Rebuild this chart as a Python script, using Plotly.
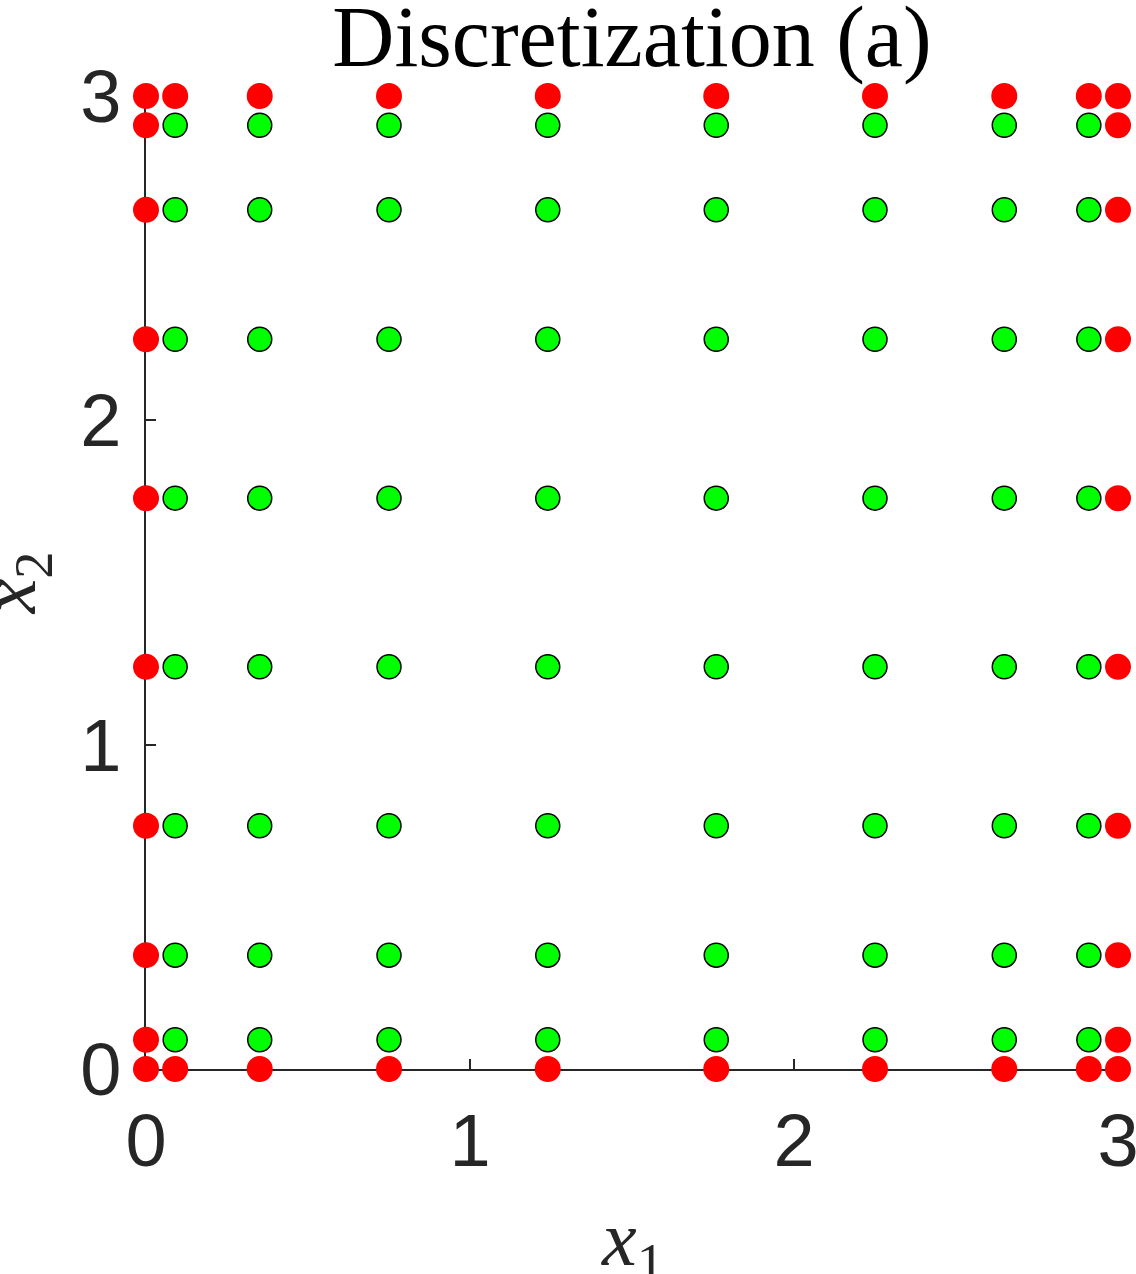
import itertools
import plotly.graph_objects as go

# Grid nodes along each axis
nodes = [0.0, 0.09, 0.351, 0.75, 1.24, 1.76, 2.25, 2.649, 2.91, 3.0]
tick_vals = [0, 1, 2, 3]
tick_text = ["0", "1", "2", "3"]
title_text = "Discretization (a)"

lo, hi = nodes[0], nodes[-1]
pts = list(itertools.product(nodes, nodes))
bnd = [(x, y) for x, y in pts if x in (lo, hi) or y in (lo, hi)]
inn = [(x, y) for x, y in pts if not (x in (lo, hi) or y in (lo, hi))]

fig = go.Figure()
fig.add_trace(go.Scatter(
    x=[p[0] for p in inn], y=[p[1] for p in inn], mode="markers",
    marker=dict(size=24, color="#00ff00", line=dict(color="black", width=1.5)),
    cliponaxis=False, showlegend=False))
fig.add_trace(go.Scatter(
    x=[p[0] for p in bnd], y=[p[1] for p in bnd], mode="markers",
    marker=dict(size=26, color="#ff0000", line=dict(width=0)),
    cliponaxis=False, showlegend=False))

axis_common = dict(
    range=[0, 3], tickvals=tick_vals, ticktext=tick_text,
    ticks="inside", ticklen=10, tickwidth=1.5, tickcolor="#262626",
    showline=True, linecolor="#262626", linewidth=1.5,
    showgrid=False, zeroline=False, layer="below traces",
    ticklabeloverflow="allow", automargin=False,
    tickfont=dict(family="Liberation Sans, Arial", size=74, color="#262626"),
)
fig.update_xaxes(**axis_common, ticklabelstandoff=6)
fig.update_yaxes(**axis_common, ticklabelstandoff=8)

fig.update_layout(
    width=1136, height=1274,
    margin=dict(l=146, r=18, t=96, b=205, autoexpand=False),
    plot_bgcolor="white", paper_bgcolor="white",
    title=dict(text=title_text, xref="paper", x=0.5, xanchor="center",
               yref="container", y=1 - 36 / 1274, yanchor="middle",
               font=dict(family="Liberation Serif, Times New Roman", size=86, color="black")),
    annotations=[
        dict(text="<i>x</i><sub>1</sub>", xref="paper", yref="paper", x=0.5, y=-0.18,
             xanchor="center", yanchor="middle", showarrow=False,
             font=dict(family="Liberation Serif, Times New Roman", size=78, color="#262626")),
        dict(text="<i>x</i><sub>2</sub>", xref="paper", yref="paper", x=-0.136, y=0.5,
             xanchor="center", yanchor="middle", showarrow=False, textangle=-90,
             font=dict(family="Liberation Serif, Times New Roman", size=78, color="#262626")),
    ],
)

# remove the page's default body margin so the figure sits at the window's top-left corner
fig.write_html("out.html", config={"displayModeBar": False},
               post_script="document.body.style.margin='0';document.body.style.overflow='hidden';")
